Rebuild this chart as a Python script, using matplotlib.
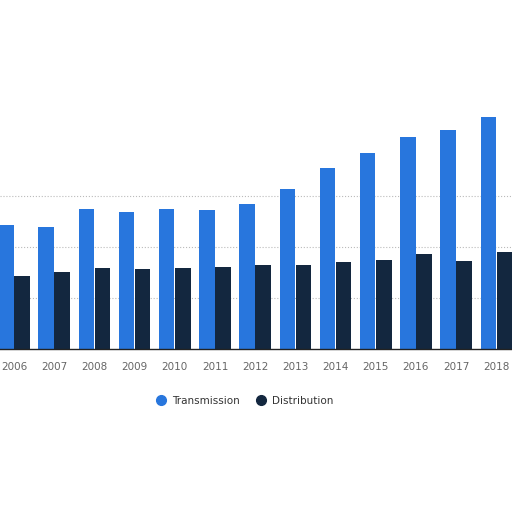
import numpy as np
from matplotlib import pyplot as plt
from matplotlib.lines import Line2D

years = ['2006', '2007', '2008', '2009', '2010', '2011', '2012',
         '2013', '2014', '2015', '2016', '2017', '2018']
transmission = [122, 120, 137, 134, 137, 136, 142, 157, 177, 192, 208, 215, 227]
distribution = [72, 75, 79, 78, 79, 80, 82, 82, 85, 87, 93, 86, 95]

col_t = '#2876dd'
col_d = '#13273f'

fig = plt.figure(figsize=(5.12, 5.12), dpi=100)
ax = fig.add_axes([0, 163/512, 1, 349/512])

x = np.arange(len(years))
w = 0.385
ax.bar(x - 0.2, transmission, w, color=col_t, zorder=3)
ax.bar(x + 0.2, distribution, w, color=col_d, zorder=3)

ax.set_xlim(-0.348, 12.39)
ax.set_ylim(0, 342)
ax.set_yticks([50, 100, 150])
ax.grid(axis='y', linestyle=':', color='#bbbbbb', linewidth=0.8, zorder=0)
ax.tick_params(axis='y', left=False, labelleft=False)
ax.set_xticks(x)
ax.set_xticklabels(years, fontsize=7.5, color='#666666')
ax.tick_params(axis='x', length=0, pad=9)
for s in ['top', 'right', 'left']:
    ax.spines[s].set_visible(False)
ax.spines['bottom'].set_color('#222222')
ax.spines['bottom'].set_linewidth(1.0)
ax.spines['bottom'].set_zorder(4)

handles = [Line2D([], [], marker='o', linestyle='', color=col_t, markersize=7),
           Line2D([], [], marker='o', linestyle='', color=col_d, markersize=7)]
fig.legend(handles, ['Transmission', 'Distribution'], loc='center',
           bbox_to_anchor=(242/512, 1 - 401/512), ncol=2, frameon=False,
           fontsize=7.5, handletextpad=0.1, columnspacing=1.0,
           labelcolor='#333333')

fig.savefig('out.png', dpi=100)
